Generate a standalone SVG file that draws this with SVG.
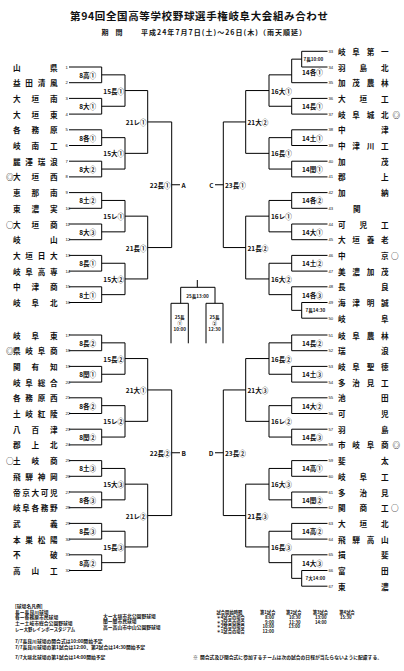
<svg xmlns="http://www.w3.org/2000/svg" width="404" height="671" viewBox="0 0 404 671">
<style>
.bg{fill:#fff}
.l{fill:none;stroke:#000;stroke-width:1}
.n{font-family:"Noto Sans CJK JP",sans-serif;font-size:7.6px;font-weight:700;fill:#111;dominant-baseline:central}
.m{font-family:"Noto Sans CJK JP",sans-serif;font-size:7.6px;font-weight:700;fill:#111;dominant-baseline:central}
.num{font-family:"Liberation Sans",sans-serif;font-size:4.2px;fill:#111;dominant-baseline:central}
.g{font-family:"Noto Sans CJK JP",sans-serif;font-size:6.5px;font-weight:700;fill:#111;dominant-baseline:central}
.ge{text-anchor:end}
.p{font-family:"Noto Sans CJK JP",sans-serif;font-size:4.6px;font-weight:700;fill:#111;dominant-baseline:central}
.c{text-anchor:middle}
.f{font-family:"Noto Sans CJK JP",sans-serif;font-size:4.8px;font-weight:700;fill:#111;dominant-baseline:central}
.tb{font-family:"Noto Sans CJK JP",sans-serif;font-size:4.3px;font-weight:700;fill:#111;dominant-baseline:central}
.t{font-family:"Noto Sans CJK JP",sans-serif;font-size:10.5px;font-weight:700;fill:#111;dominant-baseline:central}
.st{font-family:"Noto Sans CJK JP",sans-serif;font-size:7px;font-weight:700;fill:#111;dominant-baseline:central}
</style>
<rect class="bg" x="0" y="0" width="404" height="671"/>
<g id="header">
<text class="t" x="70" y="15" textLength="258" lengthAdjust="spacing">第94回全国高等学校野球選手権岐阜大会組み合わせ</text>
<text class="st" x="101.5" y="31.5">期</text>
<text class="st" x="115.5" y="31.5">間</text>
<text class="st" x="141" y="31.5" textLength="165" lengthAdjust="spacing">平成24年7月7日(土)～26日(木)（雨天順延）</text>
</g>
<g id="connectors">
<path class="l" d="M69 67H101.7V82.7H69M101.7 74.85H125M69 98.4H101.7V114.1H69M101.7 106.25H125M69 129.8H101.7V145.5H69M101.7 137.65H125M69 161.2H101.7V176.9H69M101.7 169.05H125M69 192.6H101.7V208.3H69M101.7 200.45H125M69 224H101.7V239.7H69M101.7 231.85H125M69 255.4H101.7V271.1H69M101.7 263.25H125M69 286.8H101.7V302.5H69M101.7 294.65H125M125 74.85V106.25M125 90.55H147.7M125 137.65V169.05M125 153.35H147.7M125 200.45V231.85M125 216.15H147.7M125 263.25V294.65M125 278.95H147.7M147.7 90.55V153.35M147.7 121.95H171.7M147.7 216.15V278.95M147.7 247.55H171.7M171.7 121.95V247.55M171.7 184.75H180"/>
<path class="l" d="M69 335H101.7V350.7H69M101.7 342.85H125M69 366.4H101.7V382.1H69M101.7 374.25H125M69 397.8H101.7V413.5H69M101.7 405.65H125M69 429.2H101.7V444.9H69M101.7 437.05H125M69 460.6H101.7V476.3H69M101.7 468.45H125M69 492H101.7V507.7H69M101.7 499.85H125M69 523.4H101.7V539.1H69M101.7 531.25H125M69 554.8H101.7V570.5H69M101.7 562.65H125M125 342.85V374.25M125 358.55H147.7M125 405.65V437.05M125 421.35H147.7M125 468.45V499.85M125 484.15H147.7M125 531.25V562.65M125 546.95H147.7M147.7 358.55V421.35M147.7 389.95H171.7M147.7 484.15V546.95M147.7 515.55H171.7M171.7 389.95V515.55M171.7 452.75H180"/>
<path class="l" d="M327.5 51.3H301.7V67H327.5M301.7 59.15H291.7M291.7 59.15V82.7H327.5M291.7 74.85H269M327.5 98.4H291.7V114.1H327.5M291.7 106.25H269M327.5 129.8H291.7V145.5H327.5M291.7 137.65H269M327.5 161.2H291.7V176.9H327.5M291.7 169.05H269M327.5 192.6H291.7V208.3H327.5M291.7 200.45H269M327.5 224H291.7V239.7H327.5M291.7 231.85H269M327.5 255.4H291.7V271.1H327.5M291.7 263.25H269M327.5 286.8H291.7V310.35M291.7 294.65H269M327.5 302.5H301.7V318.2H327.5M301.7 310.35H291.7M269 74.85V106.25M269 90.55H245.7M269 137.65V169.05M269 153.35H245.7M269 200.45V231.85M269 216.15H245.7M269 263.25V294.65M269 278.95H245.7M245.7 90.55V153.35M245.7 121.95H223.3M245.7 216.15V278.95M245.7 247.55H223.3M223.3 121.95V247.55M223.3 184.75H215"/>
<path class="l" d="M327.5 335H291.7V350.7H327.5M291.7 342.85H269M327.5 366.4H291.7V382.1H327.5M291.7 374.25H269M327.5 397.8H291.7V413.5H327.5M291.7 405.65H269M327.5 429.2H291.7V444.9H327.5M291.7 437.05H269M327.5 460.6H291.7V476.3H327.5M291.7 468.45H269M327.5 492H291.7V507.7H327.5M291.7 499.85H269M327.5 523.4H291.7V539.1H327.5M291.7 531.25H269M327.5 554.8H291.7V578.35M291.7 562.65H269M327.5 570.5H301.7V586.2H327.5M301.7 578.35H291.7M269 342.85V374.25M269 358.55H245.7M269 405.65V437.05M269 421.35H245.7M269 468.45V499.85M269 484.15H245.7M269 531.25V562.65M269 546.95H245.7M245.7 358.55V421.35M245.7 389.95H223.3M245.7 484.15V546.95M245.7 515.55H223.3M223.3 389.95V515.55M223.3 452.75H215"/>
<path class="l" d="M197.3 280V287.3M180.7 287.3H215M180.7 287.3V303.3M215 287.3V303.3M171 343.3V303.3H188.3V343.3M206 343.3V303.3H223V343.3"/>
</g>
<g id="teams-left">
<g id="t1"><text class="n" x="13 50" y="67">山県</text><text class="num" x="65.5" y="67">1</text></g>
<g id="t2"><text class="n" x="13 25.33 37.67 50" y="82.7">益田清風</text><text class="num" x="65.5" y="82.7">2</text></g>
<g id="t3"><text class="n" x="13 31.5 50" y="98.4">大垣南</text><text class="num" x="65.5" y="98.4">3</text></g>
<g id="t4"><text class="n" x="13 31.5 50" y="114.1">大垣東</text><text class="num" x="65.5" y="114.1">4</text></g>
<g id="t5"><text class="n" x="13 31.5 50" y="129.8">各務原</text><text class="num" x="65.5" y="129.8">5</text></g>
<g id="t6"><text class="n" x="13 31.5 50" y="145.5">岐南工</text><text class="num" x="65.5" y="145.5">6</text></g>
<g id="t7"><text class="n" x="13 25.33 37.67 50" y="161.2">麗澤瑞浪</text><text class="num" x="65.5" y="161.2">7</text></g>
<g id="t8"><text class="m" x="6" y="176.9">◎</text><text class="n" x="13 31.5 50" y="176.9">大垣西</text><text class="num" x="65.5" y="176.9">8</text></g>
<g id="t9"><text class="n" x="13 31.5 50" y="192.6">恵那南</text><text class="num" x="65.5" y="192.6">9</text></g>
<g id="t10"><text class="n" x="13 31.5 50" y="208.3">東濃実</text><text class="num" x="65.5" y="208.3">10</text></g>
<g id="t11"><text class="m" x="6" y="224">○</text><text class="n" x="13 31.5 50" y="224">大垣商</text><text class="num" x="65.5" y="224">11</text></g>
<g id="t12"><text class="n" x="13 50" y="239.7">岐山</text><text class="num" x="65.5" y="239.7">12</text></g>
<g id="t13"><text class="n" x="13 25.33 37.67 50" y="255.4">大垣日大</text><text class="num" x="65.5" y="255.4">13</text></g>
<g id="t14"><text class="n" x="13 25.33 37.67 50" y="271.1">岐阜高専</text><text class="num" x="65.5" y="271.1">14</text></g>
<g id="t15"><text class="n" x="13 31.5 50" y="286.8">中津商</text><text class="num" x="65.5" y="286.8">15</text></g>
<g id="t16"><text class="n" x="13 31.5 50" y="302.5">岐阜北</text><text class="num" x="65.5" y="302.5">16</text></g>
<g id="t17"><text class="n" x="13 31.5 50" y="335">岐阜東</text><text class="num" x="65.5" y="335">17</text></g>
<g id="t18"><text class="m" x="6" y="350.7">◎</text><text class="n" x="13 25.33 37.67 50" y="350.7">県岐阜商</text><text class="num" x="65.5" y="350.7">18</text></g>
<g id="t19"><text class="n" x="13 31.5 50" y="366.4">関有知</text><text class="num" x="65.5" y="366.4">19</text></g>
<g id="t20"><text class="n" x="13 25.33 37.67 50" y="382.1">岐阜総合</text><text class="num" x="65.5" y="382.1">20</text></g>
<g id="t21"><text class="n" x="13 25.33 37.67 50" y="397.8">各務原西</text><text class="num" x="65.5" y="397.8">21</text></g>
<g id="t22"><text class="n" x="13 25.33 37.67 50" y="413.5">土岐紅陵</text><text class="num" x="65.5" y="413.5">22</text></g>
<g id="t23"><text class="n" x="13 31.5 50" y="429.2">八百津</text><text class="num" x="65.5" y="429.2">23</text></g>
<g id="t24"><text class="n" x="13 31.5 50" y="444.9">郡上北</text><text class="num" x="65.5" y="444.9">24</text></g>
<g id="t25"><text class="m" x="6" y="460.6">○</text><text class="n" x="13 31.5 50" y="460.6">土岐商</text><text class="num" x="65.5" y="460.6">25</text></g>
<g id="t26"><text class="n" x="13 25.33 37.67 50" y="476.3">飛騨神岡</text><text class="num" x="65.5" y="476.3">26</text></g>
<g id="t27"><text class="n" x="13 22.25 31.5 40.75 50" y="492">帝京大可児</text><text class="num" x="65.5" y="492">27</text></g>
<g id="t28"><text class="n" x="13 22.25 31.5 40.75 50" y="507.7">岐阜各務野</text><text class="num" x="65.5" y="507.7">28</text></g>
<g id="t29"><text class="n" x="13 50" y="523.4">武義</text><text class="num" x="65.5" y="523.4">29</text></g>
<g id="t30"><text class="n" x="13 25.33 37.67 50" y="539.1">本巣松陽</text><text class="num" x="65.5" y="539.1">30</text></g>
<g id="t31"><text class="n" x="13 50" y="554.8">不破</text><text class="num" x="65.5" y="554.8">31</text></g>
<g id="t32"><text class="n" x="13 31.5 50" y="570.5">高山工</text><text class="num" x="65.5" y="570.5">32</text></g>
</g>
<g id="teams-right">
<g id="t33"><text class="num" x="328.5" y="51.3">33</text><text class="n" x="338 352.33 366.67 381" y="51.3">岐阜第一</text></g>
<g id="t34"><text class="num" x="328.5" y="67">34</text><text class="n" x="338 359.5 381" y="67">羽島北</text></g>
<g id="t35"><text class="num" x="328.5" y="82.7">35</text><text class="n" x="338 352.33 366.67 381" y="82.7">加茂農林</text></g>
<g id="t36"><text class="num" x="328.5" y="98.4">36</text><text class="n" x="338 359.5 381" y="98.4">大垣工</text></g>
<g id="t37"><text class="num" x="328.5" y="114.1">37</text><text class="n" x="338 352.33 366.67 381" y="114.1">岐阜城北</text><text class="m" x="392.5" y="114.1">◎</text></g>
<g id="t38"><text class="num" x="328.5" y="129.8">38</text><text class="n" x="338 381" y="129.8">中津</text></g>
<g id="t39"><text class="num" x="328.5" y="145.5">39</text><text class="n" x="338 352.33 366.67 381" y="145.5">中津川工</text></g>
<g id="t40"><text class="num" x="328.5" y="161.2">40</text><text class="n" x="338 381" y="161.2">加茂</text></g>
<g id="t41"><text class="num" x="328.5" y="176.9">41</text><text class="n" x="338 381" y="176.9">郡上</text></g>
<g id="t42"><text class="num" x="328.5" y="192.6">42</text><text class="n" x="338 381" y="192.6">加納</text></g>
<g id="t43"><text class="num" x="328.5" y="208.3">43</text><text class="n" x="353" y="208.3">関</text></g>
<g id="t44"><text class="num" x="328.5" y="224">44</text><text class="n" x="338 359.5 381" y="224">可児工</text></g>
<g id="t45"><text class="num" x="328.5" y="239.7">45</text><text class="n" x="338 352.33 366.67 381" y="239.7">大垣養老</text></g>
<g id="t46"><text class="num" x="328.5" y="255.4">46</text><text class="n" x="338 381" y="255.4">中京</text><text class="m" x="391" y="255.4">○</text></g>
<g id="t47"><text class="num" x="328.5" y="271.1">47</text><text class="n" x="338 352.33 366.67 381" y="271.1">美濃加茂</text></g>
<g id="t48"><text class="num" x="328.5" y="286.8">48</text><text class="n" x="338 381" y="286.8">長良</text></g>
<g id="t49"><text class="num" x="328.5" y="302.5">49</text><text class="n" x="338 352.33 366.67 381" y="302.5">海津明誠</text></g>
<g id="t50"><text class="num" x="328.5" y="318.2">50</text><text class="n" x="338 381" y="318.2">岐阜</text></g>
<g id="t51"><text class="num" x="328.5" y="335">51</text><text class="n" x="338 352.33 366.67 381" y="335">岐阜農林</text></g>
<g id="t52"><text class="num" x="328.5" y="350.7">52</text><text class="n" x="338 381" y="350.7">瑞浪</text></g>
<g id="t53"><text class="num" x="328.5" y="366.4">53</text><text class="n" x="338 352.33 366.67 381" y="366.4">岐阜聖徳</text></g>
<g id="t54"><text class="num" x="328.5" y="382.1">54</text><text class="n" x="338 352.33 366.67 381" y="382.1">多治見工</text></g>
<g id="t55"><text class="num" x="328.5" y="397.8">55</text><text class="n" x="338 381" y="397.8">池田</text></g>
<g id="t56"><text class="num" x="328.5" y="413.5">56</text><text class="n" x="338 381" y="413.5">可児</text></g>
<g id="t57"><text class="num" x="328.5" y="429.2">57</text><text class="n" x="338 381" y="429.2">羽島</text></g>
<g id="t58"><text class="num" x="328.5" y="444.9">58</text><text class="n" x="338 352.33 366.67 381" y="444.9">市岐阜商</text><text class="m" x="392.5" y="444.9">◎</text></g>
<g id="t59"><text class="num" x="328.5" y="460.6">59</text><text class="n" x="338 381" y="460.6">斐太</text></g>
<g id="t60"><text class="num" x="328.5" y="476.3">60</text><text class="n" x="338 359.5 381" y="476.3">岐阜工</text></g>
<g id="t61"><text class="num" x="328.5" y="492">61</text><text class="n" x="338 359.5 381" y="492">多治見</text></g>
<g id="t62"><text class="num" x="328.5" y="507.7">62</text><text class="n" x="338 359.5 381" y="507.7">関商工</text><text class="m" x="391" y="507.7">○</text></g>
<g id="t63"><text class="num" x="328.5" y="523.4">63</text><text class="n" x="338 359.5 381" y="523.4">大垣北</text></g>
<g id="t64"><text class="num" x="328.5" y="539.1">64</text><text class="n" x="338 352.33 366.67 381" y="539.1">飛騨高山</text></g>
<g id="t65"><text class="num" x="328.5" y="554.8">65</text><text class="n" x="338 381" y="554.8">揖斐</text></g>
<g id="t66"><text class="num" x="328.5" y="570.5">66</text><text class="n" x="338 381" y="570.5">富田</text></g>
<g id="t67"><text class="num" x="328.5" y="586.2">67</text><text class="n" x="338 381" y="586.2">東濃</text></g>
</g>
<g id="games-left">
<text class="g ge" x="96" y="74.85">8高①</text>
<text class="g ge" x="96" y="106.25">8大①</text>
<text class="g ge" x="96" y="137.65">8各①</text>
<text class="g ge" x="96" y="169.05">8大②</text>
<text class="g ge" x="96" y="200.45">8土②</text>
<text class="g ge" x="96" y="231.85">8大③</text>
<text class="g ge" x="96" y="263.25">8長①</text>
<text class="g ge" x="96" y="294.65">8土①</text>
<text class="g ge" x="124" y="90.55">15長①</text>
<text class="g ge" x="124" y="153.35">15大①</text>
<text class="g ge" x="124" y="216.15">15レ①</text>
<text class="g ge" x="124" y="278.95">15大②</text>
<text class="g ge" x="146.5" y="121.95">21レ①</text>
<text class="g ge" x="146.5" y="247.55">21長①</text>
<text class="g ge" x="170.5" y="184.75">22長①</text>
<text class="g" x="181.5" y="184.75">A</text>
<text class="g ge" x="96" y="342.85">8長②</text>
<text class="g ge" x="96" y="374.25">8関①</text>
<text class="g ge" x="96" y="405.65">8各②</text>
<text class="g ge" x="96" y="437.05">8関②</text>
<text class="g ge" x="96" y="468.45">8土③</text>
<text class="g ge" x="96" y="499.85">8各③</text>
<text class="g ge" x="96" y="531.25">8長③</text>
<text class="g ge" x="96" y="562.65">8高②</text>
<text class="g ge" x="124" y="358.55">15長②</text>
<text class="g ge" x="124" y="421.35">15レ②</text>
<text class="g ge" x="124" y="484.15">15大③</text>
<text class="g ge" x="124" y="546.95">15長③</text>
<text class="g ge" x="146.5" y="389.95">21大①</text>
<text class="g ge" x="146.5" y="515.55">21レ②</text>
<text class="g ge" x="170.5" y="452.75">22長②</text>
<text class="g" x="181.5" y="452.75">B</text>
</g>
<g id="games-right">
<text class="p" x="303.5" y="59.15">7長10:00</text>
<text class="p" x="305.5" y="310.35">7長14:30</text>
<text class="p" x="305.5" y="578.35">7大14:00</text>
<text class="g" x="302" y="71.5">14各①</text>
<text class="g" x="302" y="106.25">14長①</text>
<text class="g" x="302" y="137.65">14土①</text>
<text class="g" x="302" y="169.05">14関①</text>
<text class="g" x="302" y="200.45">14各②</text>
<text class="g" x="302" y="231.85">14大①</text>
<text class="g" x="302" y="263.25">14土②</text>
<text class="g" x="302" y="294.65">14各③</text>
<text class="g" x="271" y="90.55">16大①</text>
<text class="g" x="271" y="153.35">16長①</text>
<text class="g" x="271" y="216.15">16レ①</text>
<text class="g" x="271" y="278.95">16大②</text>
<text class="g" x="247.5" y="121.95">21大②</text>
<text class="g" x="247.5" y="247.55">21長②</text>
<text class="g ge" x="213.5" y="184.75">C</text>
<text class="g" x="225" y="184.75">23長①</text>
<text class="g" x="302" y="342.85">14長②</text>
<text class="g" x="302" y="374.25">14土③</text>
<text class="g" x="302" y="405.65">14大②</text>
<text class="g" x="302" y="437.05">14長③</text>
<text class="g" x="302" y="468.45">14高①</text>
<text class="g" x="302" y="499.85">14関②</text>
<text class="g" x="302" y="531.25">14高②</text>
<text class="g" x="302" y="562.65">14大③</text>
<text class="g" x="271" y="358.55">16長②</text>
<text class="g" x="271" y="421.35">16レ②</text>
<text class="g" x="271" y="484.15">16大③</text>
<text class="g" x="271" y="546.95">16長③</text>
<text class="g" x="247.5" y="389.95">21大③</text>
<text class="g" x="247.5" y="515.55">21長③</text>
<text class="g ge" x="213.5" y="452.75">D</text>
<text class="g" x="225" y="452.75">23長②</text>
</g>
<g id="finals">
<text class="p c" x="197.5" y="296">25長13:00</text>
<text class="p c" x="179.7" y="317.3">25長</text>
<text class="p c" x="179.7" y="322.6">①</text>
<text class="p c" x="179.7" y="328.6">10:00</text>
<text class="p c" x="214.5" y="317.3">25長</text>
<text class="p c" x="214.5" y="322.6">②</text>
<text class="p c" x="214.5" y="328.6">12:30</text>
</g>
<g id="legend">
<text class="f" x="15" y="605.5">[球場名凡例]</text>
<text class="f" x="15" y="611.2">長ー長良川球場</text>
<text class="f" x="15" y="616.9">各ー各務原市民球場</text>
<text class="f" x="15" y="622.6">土ー土岐市総合公園野球場</text>
<text class="f" x="15" y="628.3" textLength="60" lengthAdjust="spacingAndGlyphs">レー大野レインボースタジアム</text>
<text class="f" x="103" y="615">大ー大垣市北公園野球場</text>
<text class="f" x="103" y="620.5">関ー関市民球場</text>
<text class="f" x="103" y="626">高ー高山市中山公園野球場</text>
<text class="f" x="15" y="640">7/7長良川球場の開会式は10:00開始予定</text>
<text class="f" x="15" y="646.7">7/7長良川球場の第1試合は12:00、第2試合は14:30開始予定</text>
<text class="f" x="15" y="656">7/7大垣北球場の第1試合は14:00開始予定</text>
<text class="f" x="193" y="656">※</text>
<text class="f" x="200" y="656" textLength="182" lengthAdjust="spacingAndGlyphs">開会式及び閉会式に参加するチームは次の試合の日程が当たらないように配慮する。</text>
</g>
<g id="schedule">
<text class="tb" x="216.5" y="612">試合開始時間</text>
<text class="tb" x="260" y="612">第1試合</text>
<text class="tb" x="286" y="612">第2試合</text>
<text class="tb" x="312.7" y="612">第3試合</text>
<text class="tb" x="339.3" y="612">第4試合</text>
<text class="tb" x="216.5" y="617">＊4試合の場合</text>
<text class="tb" x="265" y="617">8:00</text>
<text class="tb" x="289" y="617">10:30</text>
<text class="tb" x="315" y="617">13:00</text>
<text class="tb" x="340" y="617">15:30</text>
<text class="tb" x="216.5" y="621.6">＊3試合の場合</text>
<text class="tb" x="265" y="621.6">9:00</text>
<text class="tb" x="289" y="621.6">11:30</text>
<text class="tb" x="315" y="621.6">14:00</text>
<text class="tb" x="216.5" y="626.2">＊2試合の場合</text>
<text class="tb" x="262.5" y="626.2">10:00</text>
<text class="tb" x="288.5" y="626.2">13:00</text>
<text class="tb" x="216.5" y="630.8">＊1試合の場合</text>
<text class="tb" x="262.5" y="630.8">12:00</text>
</g>
</svg>
